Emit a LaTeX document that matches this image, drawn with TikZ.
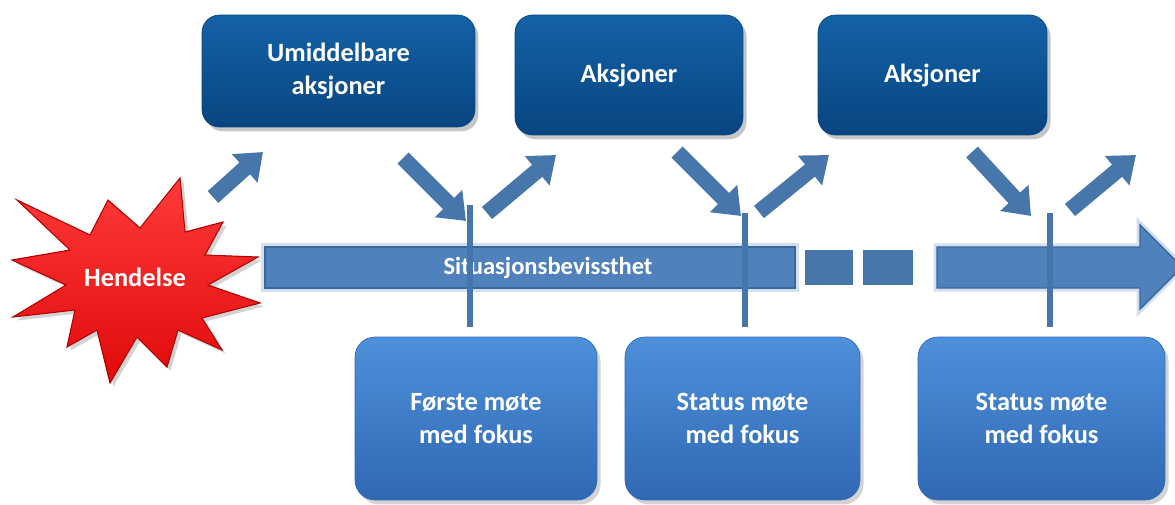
\documentclass[tikz,border=0pt]{standalone}
\usepackage{fontspec}
\setmainfont{Carlito}
\usetikzlibrary{arrows.meta,shadows}
\definecolor{dkA}{HTML}{1462A6}
\definecolor{dkB}{HTML}{074580}
\definecolor{ltA}{HTML}{4E90DA}
\definecolor{ltB}{HTML}{3068B3}
\definecolor{arrowc}{HTML}{4777AA}
\definecolor{barc}{HTML}{4F81BD}
\definecolor{barline}{HTML}{3A689E}
\definecolor{vline}{HTML}{4575AA}
\definecolor{redA}{HTML}{FF3A3A}
\definecolor{redB}{HTML}{E00A0A}
\tikzset{
  topbox/.style={rectangle, rounded corners=0.35cm, top color=dkA, bottom color=dkB,
    draw=dkB, drop shadow={shadow xshift=2pt, shadow yshift=-2.5pt, opacity=0.45},
    text=white, font=\bfseries\fontsize{15}{19}\selectfont, align=center, inner sep=0pt},
  botbox/.style={rectangle, rounded corners=0.4cm, top color=ltA, bottom color=ltB,
    draw=ltB, drop shadow={shadow xshift=2pt, shadow yshift=-2.5pt, opacity=0.35},
    text=white, font=\bfseries\fontsize{15}{19}\selectfont, align=center, inner sep=0pt},
  blockarrow/.style={draw=arrowc, line width=9pt, line cap=butt,
    -{Triangle[width=21pt,length=14pt]}},
  barpart/.style={fill=barc, draw=barline, line width=0.8pt},
  barsq/.style={fill=arrowc, draw=none},
  markline/.style={draw=vline, line width=3.4pt, shorten >=5.5pt},
  glow/.style={draw=barc!25, line width=4pt}
}
\begin{document}
\begin{tikzpicture}[x=0.02cm,y=-0.02cm]
\useasboundingbox (0,0) rectangle (1175,504);

% starburst
\path[fill=redB, draw=red!70!black, line width=0.6pt, top color=redA, bottom color=redB,
  drop shadow={shadow xshift=2pt, shadow yshift=-2pt, opacity=0.35}]
  (108,200) -- (140,228) -- (180,178) -- (185,232) -- (223,222) -- (205,255)
  -- (258,257) -- (208,285) -- (260,303) -- (202,318) -- (222,350) -- (178,330)
  -- (167,367) -- (137,337) -- (110,383) -- (97,330) -- (67,347) -- (75,310)
  -- (13,317) -- (66,285) -- (12,260) -- (70,250) -- (17,200) -- (90,235) -- cycle;
\node[text=white, font=\bfseries\fontsize{15}{18}\selectfont] (hend) at (135,277) {Hendelse};

% top boxes
\node[topbox, minimum width=5.46cm, minimum height=2.24cm] (b1) at (338.5,71) {Umiddelbare\\aksjoner};
\node[topbox, minimum width=4.56cm, minimum height=2.4cm] (b2) at (629,75) {Aksjoner};
\node[topbox, minimum width=4.58cm, minimum height=2.4cm] (b3) at (932.5,75) {Aksjoner};

% bottom boxes
\node[botbox, minimum width=4.84cm, minimum height=3.26cm] (m1) at (476,418.5) {Første møte\\med fokus};
\node[botbox, minimum width=4.7cm, minimum height=3.26cm] (m2) at (742.5,418.5) {Status møte\\med fokus};
\node[botbox, minimum width=4.94cm, minimum height=3.26cm] (m3) at (1041.5,418.5) {Status møte\\med fokus};

% timeline
\path[glow] (265,247) rectangle (795,288);
\path[glow] (937,247) -- (1140,247) -- (1140,225) -- (1182,267) -- (1140,309) -- (1140,288) -- (937,288) -- cycle;
\path[barpart] (265,247) rectangle (795,288);
\path[barsq] (805,250) rectangle (853,285);
\path[barsq] (863,250) rectangle (913,285);
\path[barpart] (937,247) -- (1140,247) -- (1140,225) -- (1182,267) -- (1140,309) -- (1140,288) -- (937,288) -- cycle;
\node[text=white, font=\bfseries\fontsize{14}{16}\selectfont] (sit) at (548,268) {Situasjonsbevissthet};

% marker lines
\coordinate (t1) at (470,205); \coordinate (t2) at (745,213); \coordinate (t3) at (1050,213);
\draw[markline] (t1) -- (t1 |- m1.north);
\draw[markline] (t2) -- (t2 |- m2.north);
\draw[markline] (t3) -- (t3 |- m3.north);

% diagonal arrows
\coordinate (a1s) at (213,197); \coordinate (a1e) at (263,152);
\coordinate (a2s) at (403,158); \coordinate (a2e) at (466,221);
\coordinate (a3s) at (487,213); \coordinate (a3e) at (556,155);
\coordinate (a4s) at (677,152); \coordinate (a4e) at (741,216);
\coordinate (a5s) at (759,212); \coordinate (a5e) at (829,155);
\coordinate (a6s) at (972,152); \coordinate (a6e) at (1031,216);
\coordinate (a7s) at (1070,210); \coordinate (a7e) at (1136,155);
\draw[blockarrow] (a1s) -- (a1e);
\draw[blockarrow] (a2s) -- (a2e);
\draw[blockarrow] (a3s) -- (a3e);
\draw[blockarrow] (a4s) -- (a4e);
\draw[blockarrow] (a5s) -- (a5e);
\draw[blockarrow] (a6s) -- (a6e);
\draw[blockarrow] (a7s) -- (a7e);
\end{tikzpicture}
\end{document}
